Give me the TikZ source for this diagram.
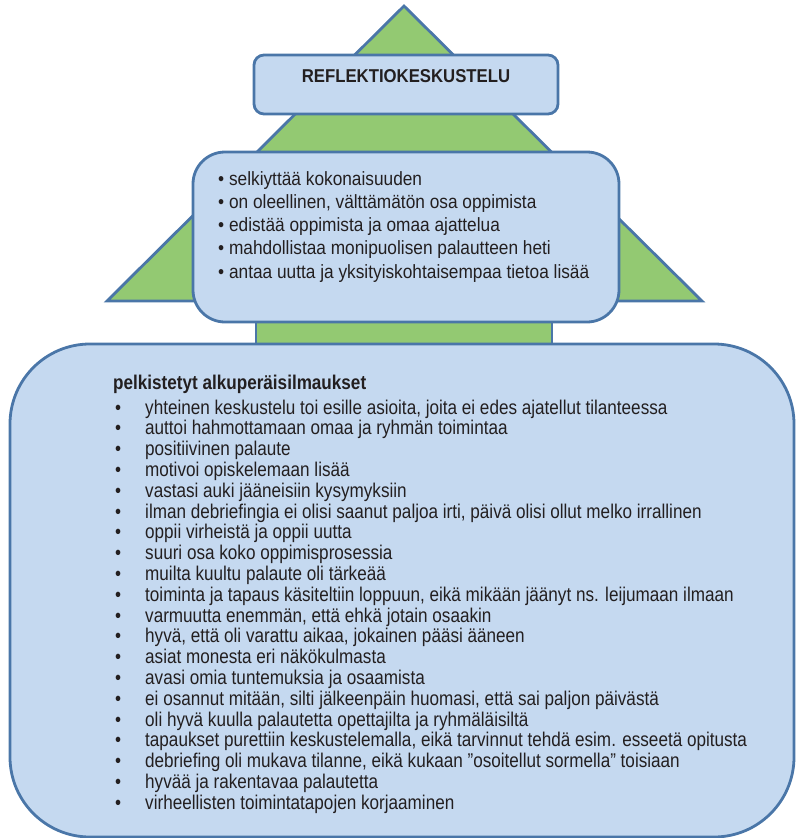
\documentclass[tikz,border=0pt]{standalone}
\usepackage{fontspec}
\setmainfont{Liberation Sans}[FakeStretch=0.9]
\newfontfamily\narrowfont{Liberation Sans}[FakeStretch=0.86]
\definecolor{leaf}{HTML}{93C972}
\definecolor{boxfill}{HTML}{C5D9F0}
\definecolor{edgeblue}{HTML}{4A76A8}
\definecolor{ink}{HTML}{231F20}
\tikzset{
  outline/.style={draw=edgeblue, line width=2.8bp},
  greenpart/.style={outline, fill=leaf},
  bluebox/.style={outline, fill=boxfill, inner sep=0pt},
  txt/.style={inner sep=0pt, text=ink},
  listtxt/.style={txt, anchor=base west, font=\narrowfont\fontsize{19.9bp}{20bp}\selectfont},
}
\begin{document}
\begin{tikzpicture}[x=1bp,y=-1bp]
\useasboundingbox (0,0) rectangle (797,838);
% tree
\draw[greenpart] (404,6) -- (702,301) -- (107,301) -- cycle;
\node[greenpart, inner sep=0pt, minimum width=296bp, minimum height=44bp] (trunk) at (404,327) {};
% boxes
\node[bluebox, rounded corners=10bp, minimum width=304bp, minimum height=59bp] (title) at (406,84.5) {};
\node[bluebox, rounded corners=32bp, minimum width=426bp, minimum height=170bp] (mid) at (406,237) {};
\node[bluebox, rounded corners=80bp, minimum width=784bp, minimum height=493bp] (big) at (402,590.5) {};
% title text
\node[txt, anchor=base] (titletext) at (406,82) {\fontsize{18.6bp}{20bp}\selectfont\bfseries REFLEKTIOKESKUSTELU};
% middle box text
\foreach \t [count=\i] in {
  {selkiyttää kokonaisuuden},
  {on oleellinen, välttämätön osa oppimista},
  {edistää oppimista ja omaa ajattelua},
  {mahdollistaa monipuolisen palautteen heti},
  {antaa uutta ja yksityiskohtaisempaa tietoa lisää}}
  \node[txt, anchor=base west] (midline\i) at (218,{185+(\i-1)*23.3}) {\fontsize{19.2bp}{21bp}\selectfont • \t};
% big box text
\node[listtxt] (header) at (113,389) {\bfseries pelkistetyt alkuperäisilmaukset};
\foreach \t [count=\i] in {
  {yhteinen keskustelu toi esille asioita, joita ei edes ajatellut tilanteessa},
  {auttoi hahmottamaan omaa ja ryhmän toimintaa},
  {positiivinen palaute},
  {motivoi opiskelemaan lisää},
  {vastasi auki jääneisiin kysymyksiin},
  {ilman debriefingia ei olisi saanut paljoa irti, päivä olisi ollut melko irrallinen},
  {oppii virheistä ja oppii uutta},
  {suuri osa koko oppimisprosessia},
  {muilta kuultu palaute oli tärkeää},
  {toiminta ja tapaus käsiteltiin loppuun, eikä mikään jäänyt ns. leijumaan ilmaan},
  {varmuutta enemmän, että ehkä jotain osaakin},
  {hyvä, että oli varattu aikaa, jokainen pääsi ääneen},
  {asiat monesta eri näkökulmasta},
  {avasi omia tuntemuksia ja osaamista},
  {ei osannut mitään, silti jälkeenpäin huomasi, että sai paljon päivästä},
  {oli hyvä kuulla palautetta opettajilta ja ryhmäläisiltä},
  {tapaukset purettiin keskustelemalla, eikä tarvinnut tehdä esim. esseetä opitusta},
  {debriefing oli mukava tilanne, eikä kukaan ”osoitellut sormella” toisiaan},
  {hyvää ja rakentavaa palautetta},
  {virheellisten toimintatapojen korjaaminen}}
{
  \node[listtxt] (bul\i) at (115,{414+(\i-1)*20.8}) {•};
  \node[listtxt] (item\i) at (145,{414+(\i-1)*20.8}) {\t};
}
\end{tikzpicture}
\end{document}
